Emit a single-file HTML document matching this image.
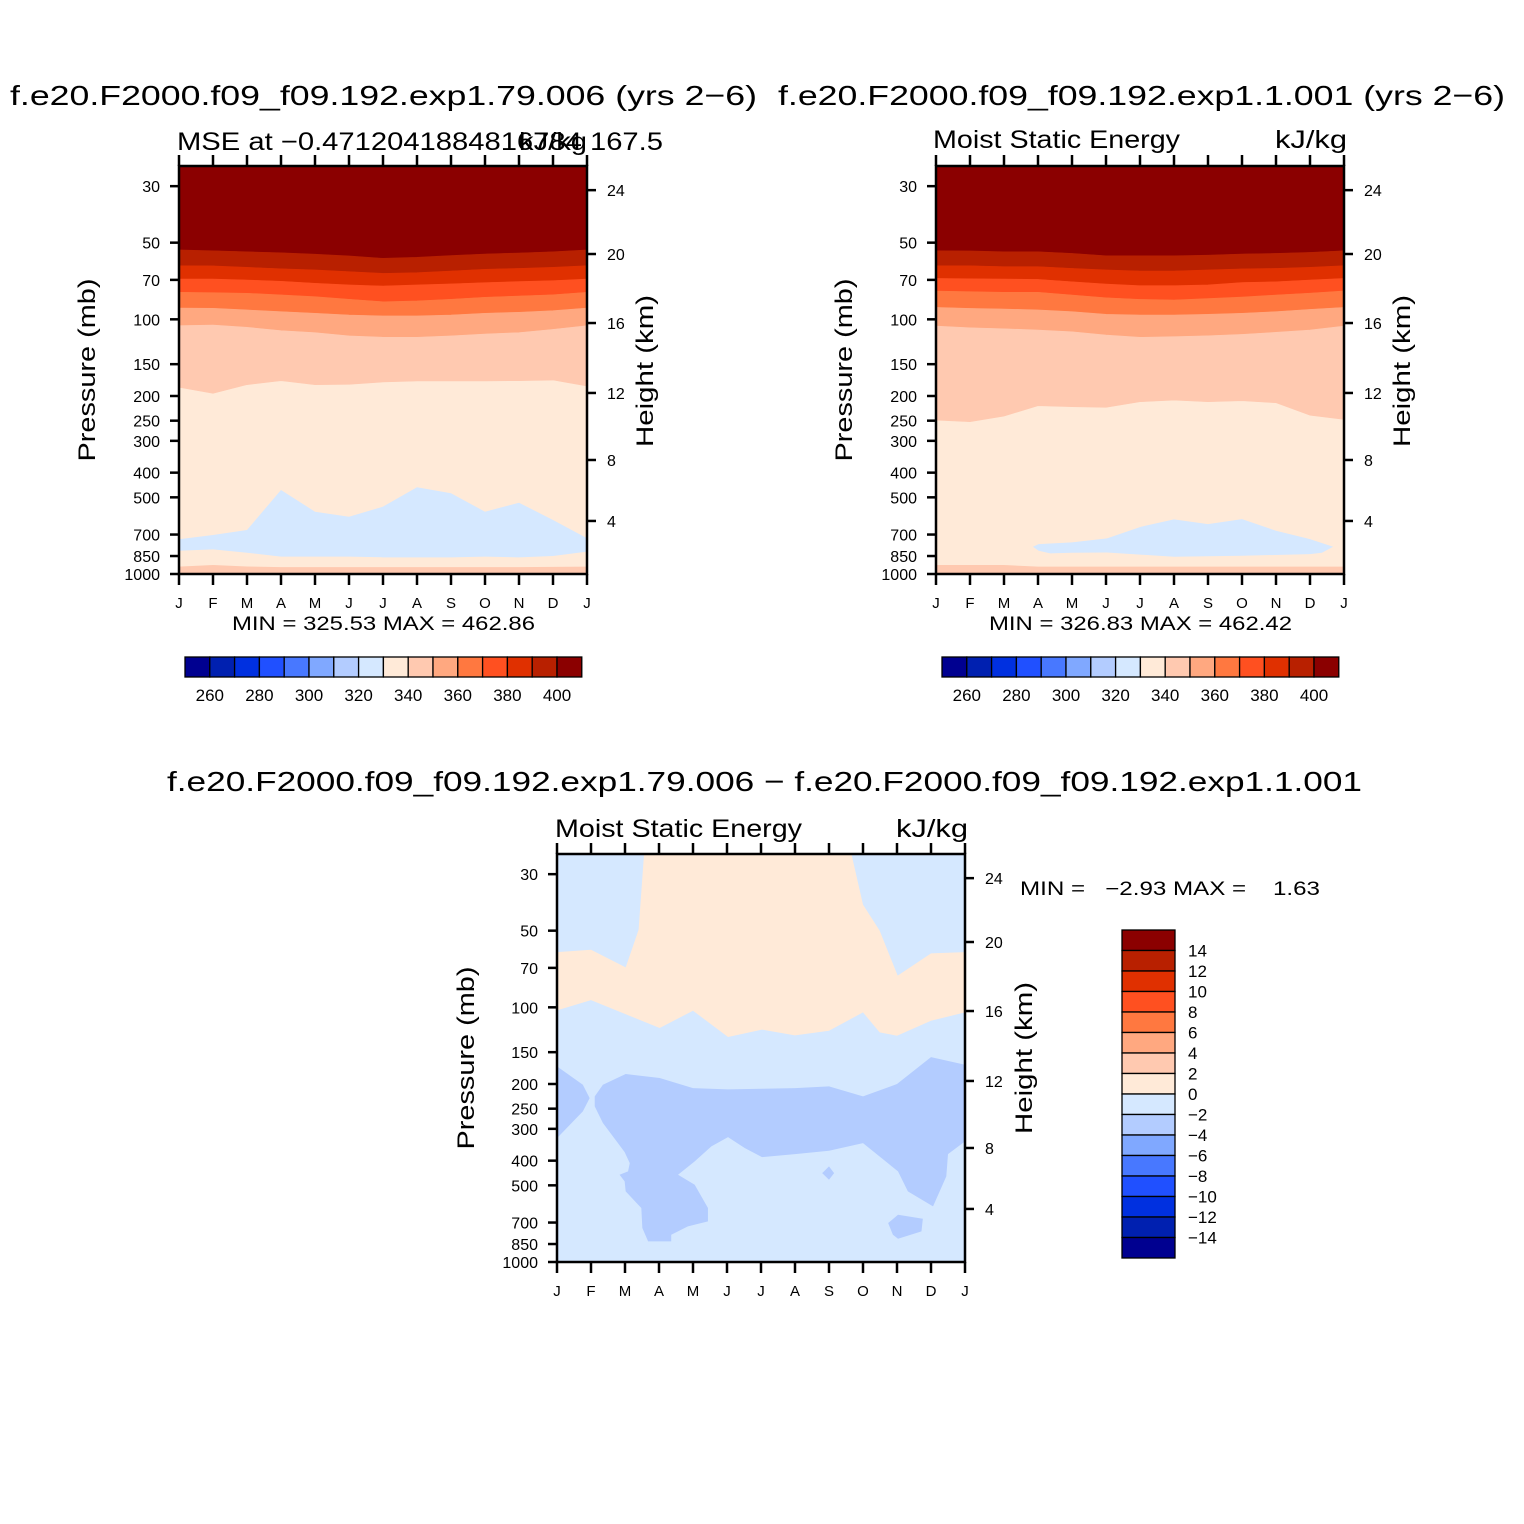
<!DOCTYPE html>
<html><head><meta charset="utf-8"><style>
html,body{margin:0;padding:0;background:#fff;}
svg{display:block;font-family:"Liberation Sans",sans-serif;}
</style></head><body>
<svg id="fig" width="1524" height="1524" viewBox="0 0 1524 1524" xmlns="http://www.w3.org/2000/svg">
<rect width="1524" height="1524" fill="#fff"/>
<g id="root"></g>
</svg>
<script>
// ---------- data ----------
const months = ["J","F","M","A","M","J","J","A","S","O","N","D","J"];
const pressureTicks = [30,50,70,100,150,200,250,300,400,500,700,850,1000];
const heightTickLabels = [24,20,16,12,8,4];
const heightTickPressures = [31.1,55.4,103.4,194.6,356.7,619];
const colorLevels = [260,270,280,290,300,310,320,330,340,350,360,370,380,390,400];
const colorbarLabels = ["260","280","300","320","340","360","380","400"];
const diffLevels = ["14","12","10","8","6","4","2","0","\u22122","\u22124","\u22126","\u22128","\u221210","\u221212","\u221214"];
const palette = ["#000090","#0020B0","#0030E0","#2050FF","#4878FF","#80A8FF","#B3CCFF","#D5E8FF","#FFEAD8","#FFC9B0","#FFA880","#FF7840","#FF5020","#E03000","#B82000","#8B0000"];

// panel 1 band boundaries (pressure, hPa) at each month J..J
const p1b1 = [53.4,53.8,54.3,54.8,55.5,56.4,57.6,57.1,56.2,55.4,54.9,54.3,53.4];
const p1b2 = [61.6,61.7,62.5,63.3,64.0,65.0,66.0,65.6,64.6,63.6,63.1,62.5,61.6];
const p1b3 = [69.5,69.5,70.1,70.9,72.2,73.3,74.0,73.3,72.6,71.8,71.1,70.5,69.5];
const p1b4 = [78.3,78.6,79.0,80.2,81.5,83.4,85.3,84.7,83.4,81.9,81.0,80.1,78.3];
const p1b5 = [90.3,90.5,91.9,93.3,94.7,96.2,97.0,97.0,96.2,94.7,93.8,92.5,90.3];
const p1b6 = [105.9,105.3,107.5,110.8,112.8,116.2,117.6,117.6,116.2,114.2,112.8,109.5,105.9];
const p1b7 = [184.9,195.2,180.5,174.1,180.5,180.0,176.2,174.6,174.6,174.6,174.1,173.1,182.7];
const p1BlueTop = [730.7,702.7,671.7,467.9,569.4,595.7,544.1,456.6,482.0,569.4,524.8,613.8,724.0];
const p1BlueBot = [810,800,825,855,855,855,860,860,860,855,860,850,817];
const p1Sfc = [936,922,934,940,940,940,940,940,940,940,940,938,936];

// panel 2
const p2b1 = [53.8,53.9,54.3,54.3,55.1,56.3,56.3,56.3,56.0,55.4,55.1,54.6,53.8];
const p2b2 = [61.6,61.6,62.1,62.1,63.1,64.0,64.6,64.6,64.0,63.4,63.1,62.5,61.6];
const p2b3 = [69.1,69.3,69.5,69.7,71.2,72.7,73.8,73.8,73.3,71.7,71.2,70.1,69.1];
const p2b4 = [77.4,77.9,78.3,78.3,80.3,82.3,83.5,84.0,82.9,81.8,80.3,78.9,77.4];
const p2b5 = [89.8,90.6,91.1,91.9,93.3,95.6,96.2,96.2,95.6,94.7,93.3,91.4,89.8];
const p2b6 = [106.3,107.9,108.9,110.2,111.9,115.3,117.7,117.0,116.0,114.6,112.5,110.2,106.3];
const p2b7 = [248.6,252.3,239.8,218.4,220.3,221.6,210.7,207.5,210.7,208.7,212.6,238.0,247.1];
const p2BlueMonths = [2.85,3.02,4,5.03,6.03,7,8,9,10,11,11.68,11.35,11,9,7,5.03,4,3.36,3.02];
const p2BlueP = [781.6,762.9,751.6,724.8,652.3,610.4,636.7,608.8,676.3,729.2,781.6,825.3,835.3,848.0,855.5,823.0,825.3,830.2,810.4];
const p2Sfc = [922,922,922,936,936,936,936,936,936,936,936,936,936];

// panel 3 (difference) polygons: month index and pressure
const d3PosM = [2.56,2.40,2.02,1,0,0,1,3.02,4,5.03,6.03,7,8,9,9.49,10,11,12,12,11,10.02,9.49,9,8.66];
const d3PosP = [25,49.6,69.7,59.4,60.7,102.8,93.7,120.6,103.1,130.8,122.4,128.9,123.6,104.7,125.4,129.3,112.9,104.7,60.7,61.4,75.1,50.0,39.5,25];
const d3LeftM = [0,0.76,0.96,0.76,0];
const d3LeftP = [170.5,201.3,227.2,256.2,326.1];
const d3MainM = [1.11,1.35,2.02,3.02,4,5.03,6.03,7,8,9,10,11,12,12,11.5,11.45,11.06,10.32,10.03,9,8,7,6.03,5.52,5.03,4.54,4.05,3.56,4.05,4.44,4.44,3.85,3.36,3.36,2.68,2.51,2.48,2.02,1.99,1.84,2.09,2.14,1.99,1.35,1.11];
const d3MainP = [223.7,201.3,182.8,189.5,207.5,210,208.7,207.5,204.4,223.7,200.1,156.8,168,336.1,376.9,461.3,604.8,528.2,440.8,341.3,365.7,376.9,387.3,356.9,323.2,351.6,402.7,454.4,497.3,614,692.8,724.8,781.6,830.2,830.2,735.7,614,528.2,482.5,454.4,440.8,408.8,370.1,284.7,244.9];
const d3BlobSM = [8,7.8,8,8.15];
const d3BlobSP = [421.3,447.6,475.3,447.6];
const d3BlobNM = [9.74,10.03,10.76,10.72,10.03,9.88];
const d3BlobNP = [703.2,652.3,676.3,758.4,810.4,781.6];

// ---------- drawing ----------
const NS = "http://www.w3.org/2000/svg";
const root = document.getElementById("root");
function mk(tag, attrs, parent){
  const e = document.createElementNS(NS, tag);
  for (const k in attrs) e.setAttribute(k, attrs[k]);
  (parent||root).appendChild(e);
  return e;
}
const W = 408, H = 408, PTOP = 25;
function makeAxes(x0, y0){
  const xm = m => x0 + m * W / 12;
  const yp = p => y0 + H - Math.log(1000 / p) / Math.log(1000 / PTOP) * H;
  return {xm, yp};
}
function bandPoly(ax, upper, lower){
  const pts = [];
  for (let i = 0; i < upper.length; i++) pts.push(ax.xm(i) + "," + ax.yp(upper[i]));
  for (let i = lower.length - 1; i >= 0; i--) pts.push(ax.xm(i) + "," + ax.yp(lower[i]));
  return pts.join(" ");
}
function constArr(v){ return months.map(() => v); }
function polyPts(ax, ms, ps){ return ms.map((m, i) => ax.xm(m) + "," + ax.yp(ps[i])).join(" "); }

function drawFrame(g, x0, y0, ax){
  mk("rect", {x:x0, y:y0, width:W, height:H, fill:"none", stroke:"#000", "stroke-width":2.5}, g);
  months.forEach((mn, i) => {
    const x = ax.xm(i);
    const t1 = mk("line", {x1:x, x2:x, y1:y0, y2:y0-11, stroke:"#000", "stroke-width":2.5}, g);
    
    
    const t2 = mk("line", {x1:x, x2:x, y1:y0+H, y2:y0+H+11, stroke:"#000", "stroke-width":2.5}, g);
    
    
    const tl = mk("text", {x:x, y:y0+H+34, "font-size":15, "text-anchor":"middle"}, g);
    tl.textContent = mn;
    
    
  });
  pressureTicks.forEach(p => {
    const y = ax.yp(p);
    const t = mk("line", {x1:x0, x2:x0-9, y1:y, y2:y, stroke:"#000", "stroke-width":2.5}, g);
    
    
    const l = mk("text", {x:x0-19, y:y+6, "font-size":16, "text-anchor":"end"}, g);
    l.textContent = p;
    
    
  });
  heightTickPressures.forEach((p, i) => {
    const y = ax.yp(p);
    const t = mk("line", {x1:x0+W, x2:x0+W+9, y1:y, y2:y, stroke:"#000", "stroke-width":2.5}, g);
    
    
    const l = mk("text", {x:x0+W+20, y:y+6, "font-size":16}, g);
    l.textContent = heightTickLabels[i];
    
    
  });
}
function txt(g, x, y, s, size, len, name, extra){
  const t = mk("text", Object.assign({x:x, y:y, "font-size":size}, extra||{}), g);
  if (len) { t.setAttribute("textLength", len); t.setAttribute("lengthAdjust", "spacingAndGlyphs"); }
  t.textContent = s;
  
  
  return t;
}
function vtxt(g, cx, cy, s, size, len, name){
  const t = mk("text", {x:0, y:0, "font-size":size, "text-anchor":"middle", transform:"translate("+cx+","+cy+") rotate(-90)"}, g);
  t.setAttribute("textLength", len); t.setAttribute("lengthAdjust", "spacingAndGlyphs");
  t.textContent = s;
  
  
}

function drawAbsPanel(name, x0, y0, bounds, blueFn, sfc, minmax){
  const g = mk("g", {});
  
  
  const ax = makeAxes(x0, y0);
  const bg = mk("rect", {x:x0, y:y0, width:W, height:H, fill:palette[8]}, g);
  
  
  const edges = [constArr(PTOP)].concat(bounds);
  const cols = [palette[15],palette[14],palette[13],palette[12],palette[11],palette[10],palette[9]];
  for (let i = 0; i < cols.length; i++){
    const pg = mk("polygon", {points:bandPoly(ax, edges[i], edges[i+1]), fill:cols[i], stroke:cols[i], "stroke-width":0.6}, g);
    
    
  }
  const bl = mk("polygon", {points:blueFn(ax), fill:palette[7]}, g);
  
  
  const sf = mk("polygon", {points:bandPoly(ax, sfc, constArr(1000)), fill:palette[9]}, g);
  
  
  drawFrame(g, x0, y0, ax);
  txt(g, x0+53, y0+464, minmax, 19, 303, "min-max-label");
  const cbx = x0+6, cby = y0+491, cw = 24.8;
  palette.forEach((c, i) => {
    const r = mk("rect", {x:cbx+i*cw, y:cby, width:cw, height:20, fill:c, stroke:"#000", "stroke-width":1.3}, g);
    
    
  });
  colorbarLabels.forEach((s, i) => {
    const l = mk("text", {x:cbx+(2*i+1)*cw, y:cby+44, "font-size":17, "text-anchor":"middle"}, g);
    l.textContent = s;
    
    
  });
  vtxt(g, x0-84, y0+204, "Pressure (mb)", 24, 183, "y-axis-title");
  vtxt(g, x0+474, y0+205, "Height (km)", 24, 152, "right-axis-title");
  return g;
}

const g1 = drawAbsPanel("panel-exp1-79-006", 179, 166, [p1b1,p1b2,p1b3,p1b4,p1b5,p1b6,p1b7],
  ax => bandPoly(ax, p1BlueTop, p1BlueBot), p1Sfc, "MIN = 325.53  MAX = 462.86");
txt(g1, 10, 105, "f.e20.F2000.f09_f09.192.exp1.79.006 (yrs 2\u22126)", 28, 747, "panel-title");
txt(g1, 177, 150, "MSE at \u22120.4712041884816784 167.5", 25, 486, "panel-subtitle");
txt(g1, 519, 150, "kJ/kg", 25, 68, "units-label");

const g2 = drawAbsPanel("panel-exp1-1-001", 936, 166, [p2b1,p2b2,p2b3,p2b4,p2b5,p2b6,p2b7],
  ax => polyPts(ax, p2BlueMonths, p2BlueP), p2Sfc, "MIN = 326.83  MAX = 462.42");
txt(g2, 778, 105, "f.e20.F2000.f09_f09.192.exp1.1.001 (yrs 2\u22126)", 28, 727, "panel-title");
txt(g2, 933, 148, "Moist Static Energy", 25, 247, "panel-subtitle");
txt(g2, 1275, 148, "kJ/kg", 25, 72, "units-label");

(function(){
  const x0 = 557, y0 = 854;
  const g = mk("g", {});
  
  
  const ax = makeAxes(x0, y0);
  const bg = mk("rect", {x:x0, y:y0, width:W, height:H, fill:palette[7]}, g);
  
  
  const pos = mk("polygon", {points:polyPts(ax, d3PosM, d3PosP), fill:palette[8]}, g);
  
  
  [[d3LeftM,d3LeftP],[d3MainM,d3MainP],[d3BlobSM,d3BlobSP],[d3BlobNM,d3BlobNP]].forEach(([ms,ps]) => {
    const pg = mk("polygon", {points:polyPts(ax, ms, ps), fill:palette[6]}, g);
    
    
  });
  drawFrame(g, x0, y0, ax);
  txt(g, 167, 791, "f.e20.F2000.f09_f09.192.exp1.79.006 \u2212 f.e20.F2000.f09_f09.192.exp1.1.001", 28, 1195, "difference-title");
  txt(g, 555, 837, "Moist Static Energy", 25, 247, "panel-subtitle");
  txt(g, 896, 837, "kJ/kg", 25, 72, "units-label");
  txt(g, 1020, 895, "MIN =   \u22122.93 MAX =    1.63", 19, 300, "min-max-label", {style:"white-space:pre"});
  vtxt(g, 474, 1058, "Pressure (mb)", 24, 183, "y-axis-title");
  vtxt(g, 1032, 1058, "Height (km)", 24, 152, "right-axis-title");
  const cbx = 1122, cby = 930, ch = 20.5;
  palette.slice().reverse().forEach((c, i) => {
    const r = mk("rect", {x:cbx, y:cby+i*ch, width:53, height:ch, fill:c, stroke:"#000", "stroke-width":1.3}, g);
    
    
  });
  diffLevels.forEach((s, i) => {
    const l = mk("text", {x:cbx+66, y:cby+(i+1)*ch+6, "font-size":17}, g);
    l.textContent = s;
    
    
  });
})();
</script>
</body></html>
